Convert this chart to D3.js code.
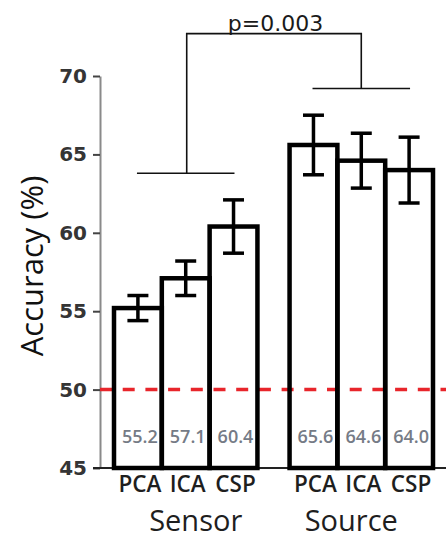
<!DOCTYPE html>
<html>
<head>
<meta charset="utf-8">
<script src="https://cdn.jsdelivr.net/npm/d3@7"></script>
<style>
  body { margin: 0; background: #fff; }
  svg { display: block; }
</style>
</head>
<body>
<div id="chart"></div>
<script>
// values
const groups = ["Sensor", "Source"]
const methods = ["PCA", "ICA", "CSP"]
const sensorAcc = [55.2, 57.1, 60.4]
const sourceAcc = [65.6, 64.6, 64.0]
const sensorErr = [0.8, 1.1, 1.7]
const sourceErr = [1.9, 1.75, 2.1]
const yTicks = [45, 50, 55, 60, 65, 70]
const chanceLevel = 50
// bracket heights (accuracy units): sensor arm, source arm, top bar
const bracketLevels = [63.8, 69.2, 72.7]
const pLabel = "p=0.003"

const width = 446
const height = 540

const rows = []
groups.forEach((g, gi) => {
  const acc = gi === 0 ? sensorAcc : sourceAcc
  const err = gi === 0 ? sensorErr : sourceErr
  methods.forEach((m, mi) => rows.push({ group: g, method: m, value: acc[mi], err: err[mi] }))
})

const svg = d3.select("#chart").append("svg")
  .attr("width", width)
  .attr("height", height)

const y = d3.scaleLinear().domain([45, 70]).range([468, 76])

const x0 = d3.scaleBand().domain(groups).range([114, 433]).paddingInner(0.183)
const x1 = d3.scaleBand().domain(methods).range([0, x0.bandwidth()])

const barX = d => x0(d.group) + x1(d.method)
const barC = d => barX(d) + x1.bandwidth() / 2

// y axis
const yAxis = svg.append("g")
  .attr("transform", "translate(100,0)")
  .call(d3.axisLeft(y).tickValues(yTicks).tickSize(7).tickSizeOuter(0).tickPadding(6))
yAxis.select(".domain").attr("stroke", "#8a8a8a").attr("stroke-width", 2)
yAxis.selectAll(".tick line").attr("stroke", "#444").attr("stroke-width", 2)
yAxis.selectAll(".tick text")
  .attr("fill", "#353535")
  .style("font-family", "'DejaVu Sans', sans-serif")
  .style("font-weight", "bold")
  .style("font-size", "20px")

// baseline
svg.append("line")
  .attr("x1", 93).attr("x2", width)
  .attr("y1", y(45)).attr("y2", y(45))
  .attr("stroke", "#222").attr("stroke-width", 2)

// chance level
svg.append("line")
  .attr("x1", 100).attr("x2", width)
  .attr("y1", y(chanceLevel)).attr("y2", y(chanceLevel))
  .attr("stroke", "#e8252b").attr("stroke-width", 3.5)
  .attr("stroke-dasharray", "12,10.7")

// value labels sit under the bar outlines
svg.append("g").selectAll("text").data(rows).enter().append("text")
  .attr("x", d => barC(d) + 2)
  .attr("y", 443)
  .attr("text-anchor", "middle")
  .attr("fill", "#757b86")
  .style("font-family", "'Open Sans', sans-serif")
  .style("font-weight", 600)
  .style("font-size", "18px")
  .text(d => d3.format(".1f")(d.value))

// bars
svg.append("g").selectAll("rect").data(rows).enter().append("rect")
  .attr("x", barX)
  .attr("width", x1.bandwidth())
  .attr("y", d => y(d.value))
  .attr("height", d => y(45) - y(d.value))
  .attr("fill", "none")
  .attr("stroke", "#000")
  .attr("stroke-width", 4.5)

// error bars
const eb = svg.append("g").attr("stroke", "#000").attr("stroke-width", 3.5)
rows.forEach(d => {
  const cx = barC(d)
  eb.append("line").attr("x1", cx).attr("x2", cx).attr("y1", y(d.value + d.err)).attr("y2", y(d.value - d.err))
  eb.append("line").attr("x1", cx - 10.5).attr("x2", cx + 10.5).attr("y1", y(d.value + d.err)).attr("y2", y(d.value + d.err))
  eb.append("line").attr("x1", cx - 10.5).attr("x2", cx + 10.5).attr("y1", y(d.value - d.err)).attr("y2", y(d.value - d.err))
})

// method labels
svg.append("g").selectAll("text").data(rows).enter().append("text")
  .attr("x", d => barC(d) + 2)
  .attr("y", 492)
  .attr("text-anchor", "middle")
  .attr("fill", "#1e1e1e")
  .style("font-family", "'Open Sans', sans-serif")
  .style("font-weight", 600)
  .style("font-size", "22.5px")
  .text(d => d.method)

// group labels
const groupShift = [10, -10]
svg.append("g").selectAll("text").data(groups).enter().append("text")
  .attr("x", (g, i) => x0(g) + x0.bandwidth() / 2 + groupShift[i])
  .attr("y", 531)
  .attr("text-anchor", "middle")
  .attr("fill", "#1e1e1e")
  .style("font-family", "'Open Sans', sans-serif")
  .style("font-weight", 500)
  .style("font-size", "29px")
  .text(g => g)

// y label
svg.append("text")
  .attr("transform", "translate(43,266) rotate(-90)")
  .attr("text-anchor", "middle")
  .attr("fill", "#111")
  .style("font-family", "'Open Sans', sans-serif")
  .style("font-size", "31px")
  .text("Accuracy (%)")

// significance bracket
const armHalf = x0.bandwidth() * 0.34
const gc = groups.map(g => x0(g) + x0.bandwidth() / 2)
const br = svg.append("g").attr("stroke", "#111").attr("stroke-width", 1.6).attr("fill", "none")
groups.forEach((g, i) => {
  br.append("line")
    .attr("x1", gc[i] - armHalf).attr("x2", gc[i] + armHalf)
    .attr("y1", y(bracketLevels[i])).attr("y2", y(bracketLevels[i]))
})
br.append("path")
  .attr("d", d3.line()([
    [gc[0] + 1, y(bracketLevels[0])],
    [gc[0] + 1, y(bracketLevels[2])],
    [gc[1], y(bracketLevels[2])],
    [gc[1], y(bracketLevels[1])]
  ]))

svg.append("text")
  .attr("x", (gc[0] + gc[1]) / 2 + 2)
  .attr("y", 31)
  .attr("text-anchor", "middle")
  .attr("fill", "#1a1a1a")
  .style("font-family", "'DejaVu Sans', sans-serif")
  .style("font-size", "22px")
  .text(pLabel)
</script>
</body>
</html>
